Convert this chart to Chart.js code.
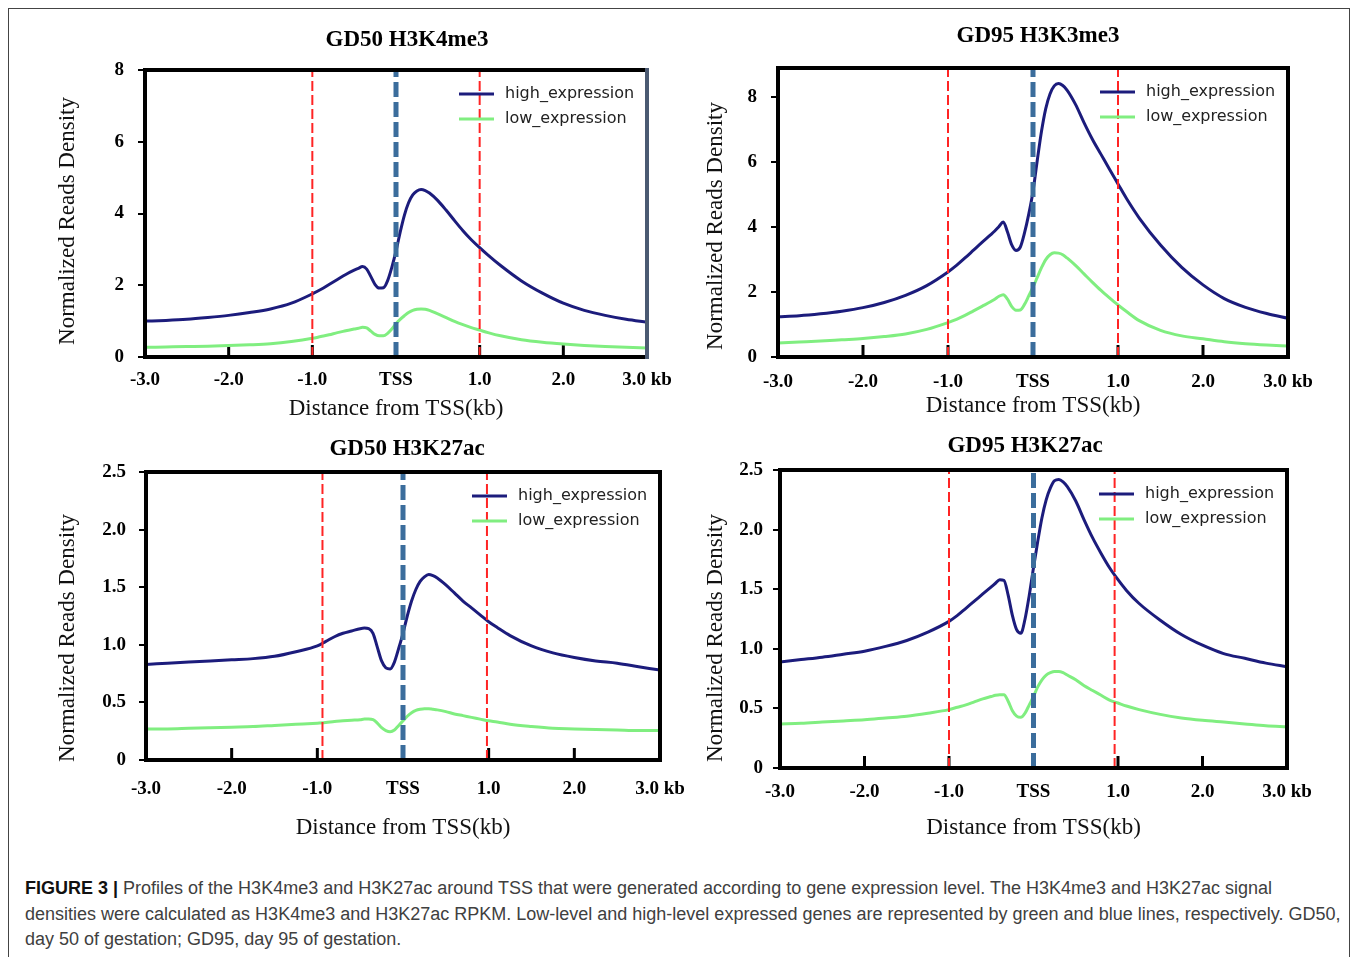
<!DOCTYPE html>
<html>
<head>
<meta charset="utf-8">
<script src="https://cdn.jsdelivr.net/npm/chart.js@4.4.0/dist/chart.umd.min.js"></script>
<style>
html,body{margin:0;padding:0;background:#fff;}
body{width:1358px;height:957px;position:relative;overflow:hidden;}
#frame{position:absolute;left:8px;top:8px;width:1342px;height:1000px;border:1px solid #444;box-sizing:border-box;}
canvas.pc{position:absolute;}
#cap{position:absolute;left:25px;top:876px;font-family:"Liberation Sans",Arial,sans-serif;font-size:18px;line-height:25.5px;color:#404040;white-space:nowrap;}
#cap b{color:#111;}
</style>
</head>
<body>
<div id="frame"></div>
<canvas id="c1" class="pc"></canvas>
<canvas id="c2" class="pc"></canvas>
<canvas id="c3" class="pc"></canvas>
<canvas id="c4" class="pc"></canvas>
<div id="cap">
<div><b>FIGURE 3 |</b> Profiles of the H3K4me3 and H3K27ac around TSS that were generated according to gene expression level. The H3K4me3 and H3K27ac signal</div>
<div>densities were calculated as H3K4me3 and H3K27ac RPKM. Low-level and high-level expressed genes are represented by green and blue lines, respectively. GD50,</div>
<div>day 50 of gestation; GD95, day 95 of gestation.</div>
</div>
<script>
// ---------- DATA ----------
const xPositions = [-3.0,-2.75,-2.5,-2.25,-2.0,-1.75,-1.5,-1.25,-1.0,
  -0.9,-0.8,-0.7,-0.6,-0.5,
  -0.45,-0.4,-0.35,-0.3,-0.25,-0.2,-0.15,-0.1,-0.05,0,0.05,0.1,0.15,0.2,0.25,0.3,0.35,0.4,
  0.5,0.6,0.7,0.8,0.9,1.0,1.1,
  1.25,1.5,1.75,2.0,2.25,2.5,2.75,3.0];

const gd50H3K4me3High = [1.00,1.02,1.05,1.10,1.16,1.24,1.34,1.50,1.76,
  1.88,2.02,2.16,2.30,2.42,
  2.47,2.52,2.45,2.24,2.02,1.92,1.93,2.13,2.50,2.95,3.48,3.95,4.30,4.52,4.63,4.67,4.64,4.57,
  4.36,4.09,3.80,3.52,3.27,3.05,2.84,
  2.55,2.12,1.78,1.50,1.30,1.16,1.05,0.97];
const gd50H3K4me3Low = [0.27,0.28,0.29,0.30,0.32,0.34,0.37,0.43,0.52,
  0.57,0.62,0.68,0.73,0.78,
  0.80,0.83,0.81,0.72,0.63,0.59,0.59,0.66,0.78,0.93,1.05,1.15,1.24,1.30,1.33,1.34,1.33,1.30,
  1.20,1.10,0.99,0.90,0.82,0.75,0.68,
  0.59,0.48,0.41,0.36,0.32,0.29,0.27,0.25];

const gd95H3K3me3High = [1.24,1.27,1.33,1.41,1.52,1.68,1.90,2.20,2.62,
  2.82,3.05,3.29,3.53,3.76,
  3.88,4.02,4.16,3.85,3.45,3.28,3.38,3.82,4.40,5.10,6.05,6.95,7.65,8.10,8.35,8.42,8.36,8.22,
  7.78,7.22,6.70,6.24,5.78,5.33,4.88,
  4.28,3.45,2.76,2.22,1.80,1.53,1.34,1.19];
const gd95H3K3me3Low = [0.43,0.46,0.49,0.53,0.57,0.63,0.71,0.85,1.06,
  1.16,1.28,1.42,1.56,1.70,
  1.78,1.87,1.92,1.78,1.55,1.44,1.45,1.62,1.88,2.15,2.45,2.75,3.00,3.15,3.21,3.20,3.15,3.05,
  2.82,2.56,2.30,2.05,1.82,1.60,1.40,
  1.12,0.82,0.65,0.56,0.47,0.41,0.37,0.34];

const gd50H3K27acHigh = [0.83,0.84,0.85,0.86,0.87,0.88,0.90,0.94,0.99,
  1.03,1.07,1.10,1.12,1.14,
  1.145,1.14,1.10,0.98,0.86,0.80,0.79,0.85,0.97,1.10,1.25,1.38,1.48,1.55,1.59,1.61,1.60,1.58,
  1.52,1.45,1.38,1.32,1.26,1.20,1.15,
  1.08,0.99,0.93,0.89,0.86,0.84,0.81,0.78];
const gd50H3K27acLow = [0.27,0.27,0.275,0.28,0.285,0.29,0.30,0.31,0.32,
  0.325,0.335,0.34,0.345,0.35,
  0.355,0.355,0.35,0.32,0.28,0.255,0.245,0.26,0.30,0.34,0.38,0.41,0.43,0.44,0.445,0.445,0.44,0.435,
  0.42,0.40,0.385,0.37,0.355,0.34,0.33,
  0.31,0.29,0.275,0.27,0.265,0.26,0.255,0.255];

const gd95H3K27acHigh = [0.89,0.91,0.93,0.955,0.98,1.02,1.07,1.14,1.23,
  1.28,1.34,1.40,1.46,1.52,
  1.55,1.58,1.575,1.45,1.28,1.16,1.13,1.25,1.45,1.68,1.90,2.10,2.25,2.35,2.41,2.42,2.40,2.36,
  2.24,2.08,1.93,1.80,1.68,1.58,1.49,
  1.38,1.24,1.12,1.03,0.96,0.92,0.88,0.85];
const gd95H3K27acLow = [0.37,0.375,0.385,0.395,0.405,0.42,0.435,0.46,0.49,
  0.51,0.53,0.555,0.58,0.60,
  0.61,0.615,0.615,0.56,0.48,0.435,0.425,0.46,0.53,0.60,0.68,0.74,0.78,0.80,0.81,0.81,0.80,0.78,
  0.74,0.69,0.65,0.61,0.57,0.545,0.52,
  0.49,0.45,0.42,0.40,0.385,0.37,0.355,0.345];

const seriesNames = ['high_expression','low_expression'];
const panelTitles = ['GD50 H3K4me3','GD95 H3K3me3','GD50 H3K27ac','GD95 H3K27ac'];
const xTickLabels = ['-3.0','-2.0','-1.0','TSS','1.0','2.0','3.0 kb'];
const yTickLabelsMe3 = ['0','2','4','6','8'];
const yTickLabelsAc = ['0','0.5','1.0','1.5','2.0','2.5'];
const xAxisTitle = 'Distance from TSS(kb)';
const yAxisTitle = 'Normalized Reads Density';
const yMaxValues = [8, 8.9, 2.5, 2.5];
const yStepValues = [2, 2, 0.5, 0.5];
const tssLine = [0, 0, 0, 0];
const boundaryLines = [[-1, 1], [-1, 1], [-0.94, 0.98], [-1, 0.96]];

// ---------- STYLE / LAYOUT ----------
const seriesColors = ['#1c1c7c', '#80ee80'];
const serif = '"Liberation Serif", "Times New Roman", serif';
const layouts = [
  {id:'c1', canvas:{x:50,y:15,w:640,h:412}, area:{l:145,t:70,r:647,b:357}, title:{x:407,y:40}, yTitle:{x:68,y:221}, yTickPad:14, xTickPad:4, rightColor:'#4b5a72'},
  {id:'c2', canvas:{x:698,y:15,w:645,h:409}, area:{l:778,t:68,r:1288,b:357}, title:{x:1038,y:36}, yTitle:{x:716,y:226}, yTickPad:14, xTickPad:6, rightColor:'#000'},
  {id:'c3', canvas:{x:50,y:430,w:645,h:416}, area:{l:146,t:472,r:660,b:760}, title:{x:407,y:449}, yTitle:{x:68,y:638}, yTickPad:13, xTickPad:10, rightColor:'#000'},
  {id:'c4', canvas:{x:698,y:430,w:645,h:416}, area:{l:780,t:470,r:1287,b:768}, title:{x:1025,y:446}, yTitle:{x:716,y:638}, yTickPad:10, xTickPad:5, rightColor:'#000'}
];
const panelSeries = [
  [gd50H3K4me3High, gd50H3K4me3Low],
  [gd95H3K3me3High, gd95H3K3me3Low],
  [gd50H3K27acHigh, gd50H3K27acLow],
  [gd95H3K27acHigh, gd95H3K27acLow]
];
const panelYLabels = [yTickLabelsMe3, yTickLabelsMe3, yTickLabelsAc, yTickLabelsAc];

function makeChart(k) {
  const L = layouts[k];
  const cv = document.getElementById(L.id);
  cv.width = L.canvas.w; cv.height = L.canvas.h;
  cv.style.left = L.canvas.x + 'px'; cv.style.top = L.canvas.y + 'px';
  cv.style.width = L.canvas.w + 'px'; cv.style.height = L.canvas.h + 'px';
  const yMax = yMaxValues[k], yStep = yStepValues[k];
  const datasets = [];
  boundaryLines[k].forEach(v => datasets.push({
    label: 'boundary', isMarker: true,
    data: [{x: v, y: 0}, {x: v, y: yMax}],
    borderColor: '#ff2424', borderWidth: 2, borderDash: [10, 4],
    pointRadius: 0, fill: false, order: 0
  }));
  datasets.push({
    label: 'TSS', isMarker: true,
    data: [{x: tssLine[k], y: 0}, {x: tssLine[k], y: yMax}],
    borderColor: '#3b6d9c', borderWidth: 5, borderDash: [15, 5],
    pointRadius: 0, fill: false, order: 0
  });
  panelSeries[k].forEach((arr, i) => datasets.push({
    label: seriesNames[i],
    data: xPositions.map((x, j) => ({x: x, y: arr[j]})),
    borderColor: seriesColors[i], borderWidth: 3,
    pointRadius: 0, fill: false, cubicInterpolationMode: 'monotone', order: 1
  }));

  const deco = {
    id: 'deco' + k,
    beforeDatasetsDraw(chart) {
      const ctx = chart.ctx, a = chart.chartArea, xs = chart.scales.x;
      ctx.save();
      ctx.strokeStyle = '#000'; ctx.lineWidth = 3;
      xs.ticks.forEach(t => {
        if (t.value <= -3 || t.value >= 3) return;
        const px = xs.getPixelForValue(t.value);
        ctx.beginPath(); ctx.moveTo(px, a.bottom); ctx.lineTo(px, a.bottom - 12); ctx.stroke();
      });
      ctx.restore();
    },
    afterDatasetsDraw(chart) {
      const ctx = chart.ctx, a = chart.chartArea;
      ctx.save();
      ctx.lineWidth = 4; ctx.strokeStyle = '#000'; ctx.lineCap = 'square';
      ctx.beginPath();
      ctx.moveTo(a.right, a.top); ctx.lineTo(a.left, a.top); ctx.lineTo(a.left, a.bottom); ctx.lineTo(a.right, a.bottom);
      ctx.stroke();
      ctx.strokeStyle = L.rightColor; ctx.lineCap = 'butt';
      ctx.beginPath(); ctx.moveTo(a.right, a.top - 2); ctx.lineTo(a.right, a.bottom + 2); ctx.stroke();
      ctx.restore();
    },
    afterDraw(chart) {
      const ctx = chart.ctx, a = chart.chartArea;
      ctx.save();
      ctx.fillStyle = '#000';
      ctx.font = 'bold 23px ' + serif;
      ctx.textAlign = 'center'; ctx.textBaseline = 'middle';
      ctx.fillText(panelTitles[k], L.title.x - L.canvas.x, L.title.y - L.canvas.y);
      // y axis title
      ctx.save();
      ctx.translate(L.yTitle.x - L.canvas.x, L.yTitle.y - L.canvas.y);
      ctx.rotate(-Math.PI / 2);
      ctx.fillStyle = '#111';
      ctx.font = '23px ' + serif;
      ctx.fillText(yAxisTitle, 0, 0);
      ctx.restore();
      // legend
      ctx.font = '16px "DejaVu Sans", sans-serif';
      ctx.textAlign = 'left';
      let row = 0;
      chart.data.datasets.forEach(ds => {
        if (ds.isMarker) return;
        const y = a.top + 24 + row * 25;
        ctx.strokeStyle = ds.borderColor; ctx.lineWidth = 3;
        ctx.beginPath(); ctx.moveTo(a.right - 188, y); ctx.lineTo(a.right - 153, y); ctx.stroke();
        ctx.fillStyle = '#222';
        ctx.fillText(ds.label, a.right - 142, y);
        row++;
      });
      ctx.restore();
    }
  };

  return new Chart(cv, {
    type: 'line',
    data: {datasets: datasets},
    options: {
      responsive: false, animation: false, devicePixelRatio: 1,
      layout: {padding: {top: L.area.t - L.canvas.y, right: L.canvas.x + L.canvas.w - L.area.r, left: 0, bottom: 0}},
      plugins: {legend: {display: false}, tooltip: {enabled: false}, title: {display: false}},
      scales: {
        x: {
          type: 'linear', min: -3, max: 3,
          afterFit: s => { s.height = L.canvas.y + L.canvas.h - L.area.b; s.paddingLeft = 0; s.paddingRight = 0; },
          grid: {display: false}, border: {display: false},
          ticks: {stepSize: 1, padding: L.xTickPad, color: '#000', maxRotation: 0, autoSkip: false,
            font: {family: serif, size: 19, weight: 'bold'},
            callback: v => xTickLabels[Math.round(v) + 3]},
          title: {display: true, text: xAxisTitle, color: '#111', font: {family: serif, size: 23}, padding: {top: 0, bottom: 4}}
        },
        y: {
          type: 'linear', min: 0, max: yMax,
          afterFit: s => { s.width = L.area.l - L.canvas.x; s.paddingTop = 0; s.paddingBottom = 0; },
          grid: {display: true, drawOnChartArea: false, drawTicks: true, tickLength: 7, color: '#000', lineWidth: 2},
          border: {display: false},
          ticks: {stepSize: yStep, includeBounds: false, padding: L.yTickPad, color: '#000',
            font: {family: serif, size: 19, weight: 'bold'},
            callback: v => panelYLabels[k][Math.round(v / yStep)]},
          title: {display: false}
        }
      }
    },
    plugins: [deco]
  });
}
for (let k = 0; k < 4; k++) makeChart(k);
</script>
</body>
</html>
